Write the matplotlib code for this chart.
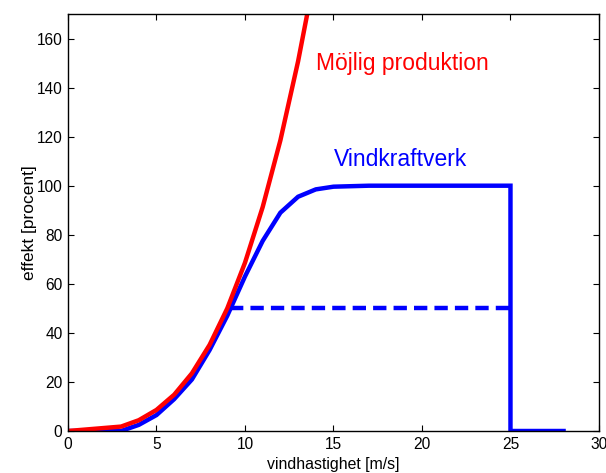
import matplotlib.pyplot as plt

plt.rcParams['font.family'] = ['Liberation Sans', 'DejaVu Sans']

# Möjlig produktion (red)
wind_possible = [0, 3, 4, 5, 6, 7, 8, 9, 10, 11, 12, 13, 14]
power_possible = [0, 1.8, 4.4, 8.6, 14.8, 23.5, 35.1, 50, 68.6, 91.3, 118.5, 150.7, 188]

# Vindkraftverk (blue)
wind_turbine = [0, 3, 4, 5, 6, 7, 8, 9, 10, 11, 12, 13, 14, 15, 16, 17, 25, 25, 28]
power_turbine = [0, 0, 2.5, 6.5, 13, 21, 33, 47, 63, 77.5, 89, 95.5, 98.5, 99.6, 99.8, 100, 100, 0, 0]

# Dashed 50% level
wind_half = [9.15, 25]
power_half = [50, 50]

fig = plt.figure(figsize=(6.06, 4.73), dpi=100)
ax = fig.add_axes([0.1122, 0.0888, 0.8762, 0.8816])

ax.plot(wind_turbine, power_turbine, color='#0000ff', linewidth=3.2, solid_joinstyle='miter')
ax.plot(wind_half, power_half, color='#0000ff', linewidth=3.2, linestyle=(0, (3, 1.6)))
ax.plot(wind_possible, power_possible, color='#ff0000', linewidth=3.2)

ax.text(14.0, 150, 'Möjlig produktion', color='#ff0000', fontsize=16.5, va='center', ha='left')
ax.text(15.0, 110.5, 'Vindkraftverk', color='#0000ff', fontsize=16.5, va='center', ha='left')

ax.set_xlim(0, 30)
ax.set_ylim(0, 170)
ax.set_xticks([0, 5, 10, 15, 20, 25, 30])
ax.set_yticks([0, 20, 40, 60, 80, 100, 120, 140, 160])
ax.tick_params(direction='in', length=4, width=0.8, top=True, right=True, labelsize=11.2, pad=4)
for s in ax.spines.values():
    s.set_linewidth(1.0)

ax.set_xlabel('vindhastighet [m/s]', fontsize=11.4, labelpad=4)
ax.set_ylabel('effekt [procent]', fontsize=12.5, labelpad=-0.5)

fig.savefig('out.png', dpi=100)
